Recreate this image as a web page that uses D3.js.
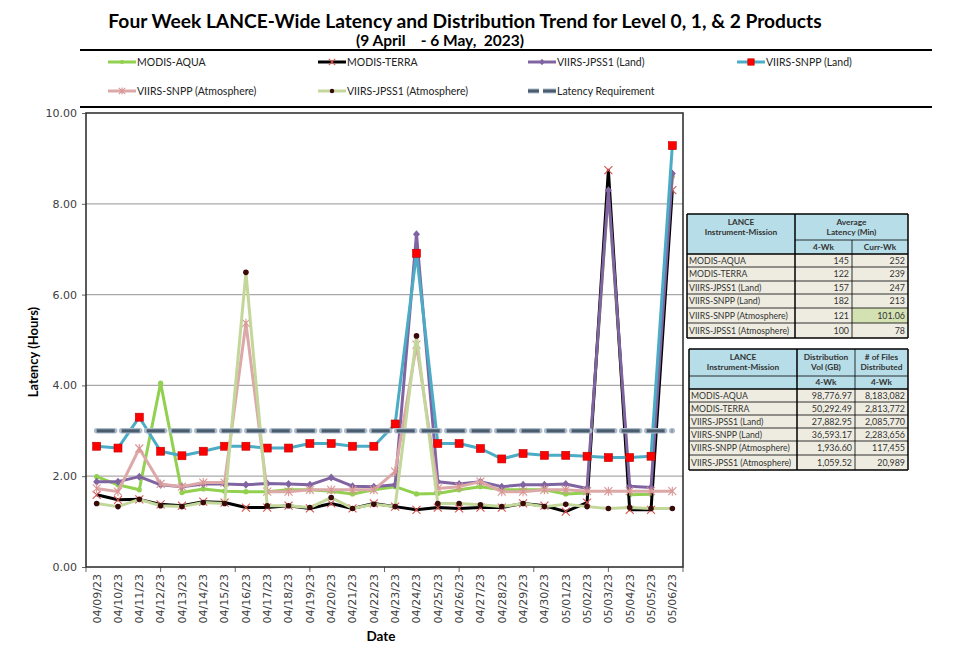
<!DOCTYPE html>
<html><head><meta charset="utf-8">
<script src="https://cdn.jsdelivr.net/npm/d3@7"></script>
<style>body{margin:0;background:#fff}svg{display:block}</style>
</head><body>
<svg id="c" width="955" height="649"></svg>
<script>
const dates = ["04/09/23","04/10/23","04/11/23","04/12/23","04/13/23","04/14/23","04/15/23","04/16/23","04/17/23","04/18/23","04/19/23","04/20/23","04/21/23","04/22/23","04/23/23","04/24/23","04/25/23","04/26/23","04/27/23","04/28/23","04/29/23","04/30/23","05/01/23","05/02/23","05/03/23","05/04/23","05/05/23","05/06/23"];
const modisAqua   = [1.99,1.81,1.70,4.05,1.64,1.72,1.67,1.66,1.66,1.70,1.70,1.67,1.61,1.70,1.77,1.61,1.62,1.70,1.77,1.70,1.70,1.70,1.61,1.63,8.30,1.59,1.60,8.60];
const modisTerra  = [1.59,1.48,1.49,1.38,1.35,1.44,1.42,1.31,1.31,1.35,1.29,1.40,1.29,1.40,1.33,1.26,1.31,1.29,1.31,1.31,1.40,1.35,1.22,1.42,8.74,1.26,1.26,8.30];
const jpss1Land   = [1.88,1.88,1.99,1.81,1.77,1.83,1.83,1.81,1.84,1.83,1.81,1.97,1.78,1.77,1.81,7.33,1.88,1.83,1.88,1.77,1.81,1.81,1.83,1.73,8.30,1.78,1.75,8.67];
const snppLand    = [2.66,2.62,3.30,2.55,2.45,2.55,2.66,2.66,2.62,2.62,2.72,2.72,2.66,2.66,3.15,6.91,2.72,2.72,2.61,2.38,2.50,2.46,2.46,2.44,2.41,2.41,2.44,9.28];
const snppAtm     = [1.73,1.66,2.61,1.83,1.77,1.86,1.86,5.37,1.66,1.66,1.70,1.70,1.70,1.70,2.10,4.90,1.73,1.77,1.88,1.66,1.66,1.70,1.70,1.67,1.67,1.67,1.67,1.67];
const jpss1Atm    = [1.40,1.33,1.49,1.35,1.33,1.42,1.40,6.49,1.35,1.35,1.31,1.53,1.29,1.38,1.33,5.09,1.40,1.40,1.37,1.33,1.40,1.33,1.38,1.33,1.29,1.31,1.29,1.29];
const latencyReq  = [3,3,3,3,3,3,3,3,3,3,3,3,3,3,3,3,3,3,3,3,3,3,3,3,3,3,3,3];
const yTicks = [0,2,4,6,8,10];

const tableMissions = ["MODIS-AQUA","MODIS-TERRA","VIIRS-JPSS1 (Land)","VIIRS-SNPP (Land)","VIIRS-SNPP (Atmosphere)","VIIRS-JPSS1 (Atmosphere)"];
const latency4wk  = ["145","122","157","182","121","100"];
const latencyCurr = ["252","239","247","213","101.06","78"];
const distVol     = ["98,776.97","50,292.49","27,882.95","36,593.17","1,936.60","1,059.52"];
const filesDist   = ["8,183,082","2,813,772","2,085,770","2,283,656","117,455","20,989"];

const series = [
  {name:"MODIS-AQUA", values:modisAqua, color:"#92d050", marker:"dot", mcolor:"#92d050"},
  {name:"MODIS-TERRA", values:modisTerra, color:"#000000", marker:"x", mcolor:"#d9534f"},
  {name:"VIIRS-JPSS1 (Land)", values:jpss1Land, color:"#8064a2", marker:"diamond", mcolor:"#8064a2"},
  {name:"VIIRS-SNPP (Land)", values:snppLand, color:"#4bacc6", marker:"square", mcolor:"#ff0000"},
  {name:"VIIRS-SNPP (Atmosphere)", values:snppAtm, color:"#dca8a8", marker:"star", mcolor:"#d99694"},
  {name:"VIIRS-JPSS1 (Atmosphere)", values:jpss1Atm, color:"#c4d79b", marker:"bigdot", mcolor:"#3a0a0a"},
  {name:"Latency Requirement", values:latencyReq, color:"#4a5d6e", marker:"none", dashed:true}
];

const svg = d3.select("#c");
const L=86, R=683, T=113, B=567;
const x = d3.scaleBand().domain(dates).range([L,R]);
const y = d3.scaleLinear().domain([0,10]).range([B,T]);
const cx = d => x(d)+x.bandwidth()/2;

// title
svg.append("text").attr("x",465).attr("y",28).attr("text-anchor","middle")
  .style("font-family","Lato").style("font-weight","bold").style("font-size","19.2px").attr("fill","#000")
  .text("Four Week LANCE-Wide Latency and Distribution Trend for Level 0, 1, & 2 Products");
svg.append("text").attr("x",440).attr("y",46).attr("text-anchor","middle")
  .style("font-family","Lato").style("font-weight","bold").style("font-size","15.5px").attr("fill","#000")
  .text("(9 April\u00a0\u00a0\u00a0 - 6 May,\u00a0 2023)");

// legend frame
svg.append("line").attr("x1",80).attr("x2",932).attr("y1",50).attr("y2",50).attr("stroke","#000").attr("stroke-width",2);
svg.append("line").attr("x1",80).attr("x2",932).attr("y1",107).attr("y2",107).attr("stroke","#000").attr("stroke-width",2);

// gridlines
svg.append("g").selectAll("line").data(yTicks.filter(t=>t>0&&t<10)).join("line")
  .attr("x1",L).attr("x2",R).attr("y1",d=>y(d)).attr("y2",d=>y(d))
  .attr("stroke","#a9a9a9").attr("stroke-width",1.3);

// axes
const ya = svg.append("g").attr("transform",`translate(${L},0)`)
  .call(d3.axisLeft(y).tickValues(yTicks).tickFormat(d3.format(".2f")).tickSize(4).tickPadding(5));
ya.select(".domain").remove();
ya.selectAll("line").attr("stroke","#666");
ya.selectAll("text").style("font-family","DejaVu Sans").style("font-size","11px").attr("fill","#404040");

const xa = svg.append("g").attr("transform",`translate(0,${B})`)
  .call(d3.axisBottom(x).tickSize(0));
xa.select(".domain").remove();
xa.selectAll("text").attr("transform","rotate(-90)").attr("text-anchor","end")
  .attr("x",-7).attr("y",0).attr("dy","0.35em")
  .style("font-family","DejaVu Sans").style("font-size","11px").attr("fill","#404040");
// minor tick marks along the category axis
const nTickInt = 8;
svg.append("g").selectAll("line").data(d3.range(nTickInt+1)).join("line")
  .attr("x1",k=>L+k*(R-L)/nTickInt).attr("x2",k=>L+k*(R-L)/nTickInt)
  .attr("y1",B).attr("y2",B+5).attr("stroke","#666");

// frame
svg.append("rect").attr("x",L).attr("y",T).attr("width",R-L).attr("height",B-T)
  .attr("fill","none").attr("stroke","#333").attr("stroke-width",1.6);

// axis titles
svg.append("text").attr("transform","translate(38,352) rotate(-90)").attr("text-anchor","middle")
  .style("font-family","Lato").style("font-weight","bold").style("font-size","13px").text("Latency (Hours)");
svg.append("text").attr("x",381).attr("y",641).attr("text-anchor","middle")
  .style("font-family","Lato").style("font-weight","bold").style("font-size","13.5px").text("Date");

function drawMarker(g, type, px, py, col, s){
  s = s||1;
  if(type==="dot") g.append("circle").attr("cx",px).attr("cy",py).attr("r",2.6*s).attr("fill",col);
  else if(type==="bigdot") g.append("circle").attr("cx",px).attr("cy",py).attr("r",2.8*s).attr("fill",col);
  else if(type==="square") g.append("rect").attr("x",px-4*s).attr("y",py-4*s).attr("width",8*s).attr("height",8*s).attr("fill",col).attr("stroke","#c00000").attr("stroke-width",0.6);
  else if(type==="diamond") g.append("path").attr("d",`M${px},${py-4*s}L${px+3.5*s},${py}L${px},${py+4*s}L${px-3.5*s},${py}Z`).attr("fill",col);
  else if(type==="x") g.append("path").attr("d",`M${px-4*s},${py-4*s}L${px+4*s},${py+4*s}M${px-4*s},${py+4*s}L${px+4*s},${py-4*s}`).attr("stroke",col).attr("stroke-width",1.1);
  else if(type==="star") g.append("path").attr("d",`M${px-4*s},${py-4*s}L${px+4*s},${py+4*s}M${px-4*s},${py+4*s}L${px+4*s},${py-4*s}M${px},${py-4.5*s}L${px},${py+4.5*s}`).attr("stroke",col).attr("stroke-width",1.1);
}

const line = d3.line().x((d,i)=>cx(dates[i])).y(d=>y(d));
const plot = svg.append("g");
series.forEach(s=>{
  const g = plot.append("g");
  if(s.dashed){
    g.append("path").attr("d",line(s.values)).attr("fill","none").attr("stroke","#aebccb").attr("stroke-width",5.5).attr("stroke-dasharray","18,7").attr("stroke-linecap","round");
    g.append("path").attr("d",line(s.values)).attr("fill","none").attr("stroke",s.color).attr("stroke-width",3.2).attr("stroke-dasharray","18,7");
  } else {
    g.append("path").attr("d",line(s.values)).attr("fill","none").attr("stroke",s.color).attr("stroke-width",3).attr("stroke-linejoin","round");
    s.values.forEach((v,i)=>drawMarker(g,s.marker,cx(dates[i]),y(v),s.mcolor));
  }
});

// legend
const legendItems = [
  {s:series[0], x:108, y:62}, {s:series[1], x:318, y:62}, {s:series[2], x:528, y:62}, {s:series[3], x:737, y:62},
  {s:series[4], x:108, y:91}, {s:series[5], x:318, y:91}, {s:series[6], x:528, y:91}
];
legendItems.forEach(it=>{
  const g = svg.append("g");
  const s = it.s, w=28;
  if(s.dashed){
    g.append("line").attr("x1",it.x).attr("x2",it.x+11).attr("y1",it.y).attr("y2",it.y).attr("stroke","#aebccb").attr("stroke-width",5);
    g.append("line").attr("x1",it.x).attr("x2",it.x+11).attr("y1",it.y).attr("y2",it.y).attr("stroke",s.color).attr("stroke-width",3);
    g.append("line").attr("x1",it.x+15).attr("x2",it.x+w).attr("y1",it.y).attr("y2",it.y).attr("stroke","#aebccb").attr("stroke-width",5);
    g.append("line").attr("x1",it.x+15).attr("x2",it.x+w).attr("y1",it.y).attr("y2",it.y).attr("stroke",s.color).attr("stroke-width",3);
  } else {
    g.append("line").attr("x1",it.x).attr("x2",it.x+w).attr("y1",it.y).attr("y2",it.y).attr("stroke",s.color).attr("stroke-width",3);
    drawMarker(g,s.marker,it.x+w/2,it.y,s.mcolor,0.8);
  }
  g.append("text").attr("x",it.x+w+1).attr("y",it.y).attr("dy","0.35em")
    .style("font-family","Lato").style("font-size","10.5px").attr("fill","#222").text(s.name);
});

// tables
function drawTable(cols, rows, headers1, headers2, colData, highlight){
  const g = svg.append("g");
  const nData = tableMissions.length;
  g.append("rect").attr("x",cols[0]).attr("y",rows[0]).attr("width",cols[3]-cols[0]).attr("height",rows[2]-rows[0]).attr("fill","#b7dee8");
  for(let r=0;r<nData;r++){
    g.append("rect").attr("x",cols[0]).attr("y",rows[r+2]).attr("width",cols[3]-cols[0]).attr("height",rows[r+3]-rows[r+2]).attr("fill","#eeece1");
  }
  if(highlight){
    const [r,c]=highlight;
    g.append("rect").attr("x",cols[c]).attr("y",rows[r+2]).attr("width",cols[c+1]-cols[c]).attr("height",rows[r+3]-rows[r+2]).attr("fill","#d4e1b3");
  }
  rows.forEach((ry,i)=>{
    g.append("line").attr("x1",(i===1 && headers1.span)?cols[1]:cols[0]).attr("x2",cols[3]).attr("y1",ry).attr("y2",ry)
      .attr("stroke","#000").attr("stroke-width",(i===0||i===rows.length-1||i===2)?1.5:0.8);
  });
  cols.forEach((cxv,i)=>{
    const y1 = (i===2 && headers1.span) ? rows[1] : rows[0];
    g.append("line").attr("x1",cxv).attr("x2",cxv).attr("y1",y1).attr("y2",rows[rows.length-1])
      .attr("stroke","#000").attr("stroke-width",(i===0||i===3||i===1)?1.5:0.8);
  });
  const hf = t=>t.style("font-family","Lato").style("font-weight","bold").style("font-size","8.3px").attr("fill","#333").attr("text-anchor","middle");
  headers1.cells.forEach(h=>{
    const tx = (cols[h.c0]+cols[h.c1])/2;
    const t = g.append("text").attr("x",tx).attr("y",rows[0]+11).call(hf);
    h.lines.forEach((ln,k)=>t.append("tspan").attr("x",tx).attr("dy",k===0?0:10).text(ln));
  });
  headers2.forEach((h,c)=>{
    if(!h) return;
    g.append("text").attr("x",(cols[c]+cols[c+1])/2).attr("y",(rows[1]+rows[2])/2).attr("dy","0.35em").call(hf).text(h);
  });
  for(let r=0;r<nData;r++){
    const my = (rows[r+2]+rows[r+3])/2;
    g.append("text").attr("x",cols[0]+2).attr("y",my).attr("dy","0.35em")
      .style("font-family","Lato").style("font-size","8.7px").attr("fill","#333").text(tableMissions[r]);
    colData.forEach((arr,c)=>{
      g.append("text").attr("x",cols[c+2]-3).attr("y",my).attr("dy","0.35em").attr("text-anchor","end")
        .style("font-family","Lato").style("font-size","8.9px").attr("fill","#333").text(arr[r]);
    });
  }
}
drawTable([687,795,852,908],[214,240,254,267,281,294,308,323,338],
  {span:true, cells:[{c0:0,c1:1,lines:["LANCE","Instrument-Mission"]},{c0:1,c1:3,lines:["Average","Latency (Min)"]}]},
  [null,"4-Wk","Curr-Wk"], [latency4wk, latencyCurr], [4,2]);
drawTable([689,797,855,908],[349,376,389,402,415,428,441,455,470],
  {span:false, cells:[{c0:0,c1:1,lines:["LANCE","Instrument-Mission"]},{c0:1,c1:2,lines:["Distribution","Vol (GB)"]},{c0:2,c1:3,lines:["# of Files","Distributed"]}]},
  [null,"4-Wk","4-Wk"], [distVol, filesDist], null);
</script>
</body></html>
